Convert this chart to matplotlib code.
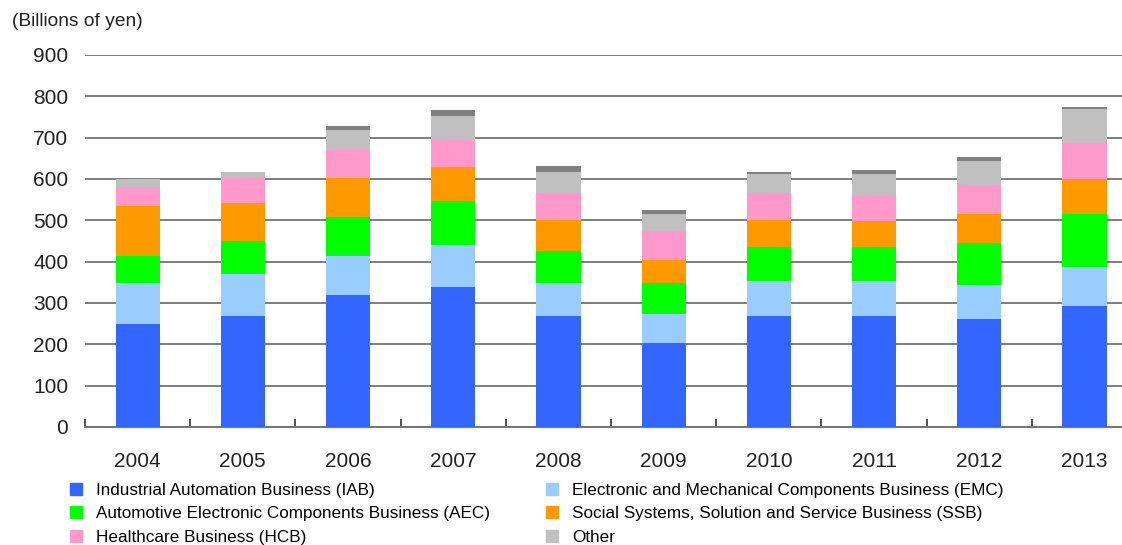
import matplotlib
matplotlib.use('Agg')
import matplotlib.pyplot as plt
from matplotlib.patches import Patch
import numpy as np

years = ['2004', '2005', '2006', '2007', '2008', '2009', '2010', '2011', '2012', '2013']
iab = [248, 269, 319, 339, 269, 203, 269, 269, 261, 293]
emc = [100, 101, 94, 101, 80, 70, 84, 84, 82, 94]
aec = [66, 80, 94, 107, 77, 75, 83, 83, 102, 129]
ssb = [121, 92, 95, 81, 75, 57, 65, 63, 71, 83]
hcb = [45, 61, 69, 67, 64, 68, 64, 61, 70, 88]
other = [19, 14, 47, 58, 52, 43, 48, 53, 58, 83]
elim = [0, 0, 10, 15, 14, 9, 4, 9, 10, 5]

labels = ['Industrial Automation Business (IAB)',
          'Electronic and Mechanical Components Business (EMC)',
          'Automotive Electronic Components Business (AEC)',
          'Social Systems, Solution and Service Business (SSB)',
          'Healthcare Business (HCB)',
          'Other']
colors = ['#3366FF', '#99CCFF', '#00FF00', '#FF9900', '#FF99CC', '#C0C0C0', '#808080']

plt.rcParams['font.family'] = ['Liberation Sans', 'DejaVu Sans']

fig = plt.figure(figsize=(11.22, 5.45), dpi=100)
ax = fig.add_axes([85/1122, (545-427)/545, 1 - 85/1122, 372/545])

x = np.arange(len(years))
series = [iab, emc, aec, ssb, hcb, other, elim]
bottom = np.zeros(len(years))
for vals, c in zip(series, colors):
    ax.bar(x, vals, bottom=bottom, width=0.42, color=c, zorder=3)
    bottom += np.array(vals)

ax.set_yticks(range(0, 1000, 100))
ax.yaxis.grid(True, color='#5a5a5a', lw=1.1, zorder=1)
ax.tick_params(axis='y', length=0, pad=12, labelsize=15, labelcolor='#222222')
ax.set_xticks(x)
ax.set_xticklabels(years)
ax.set_xticks(np.arange(-0.5, 9.6, 1), minor=True)
ax.tick_params(axis='x', which='major', length=0, pad=18, labelsize=15, labelcolor='#222222')
ax.tick_params(axis='x', which='minor', direction='in', length=6, color='#333333', width=1.2)
ax.set_ylim(0, 900)
ax.set_xlim(-0.5, 9.357)
for s in ['left', 'right', 'top']:
    ax.spines[s].set_visible(False)
ax.spines['bottom'].set_color('#777777')
ax.spines['bottom'].set_linewidth(1.5)

fig.text(12/1122, 1 - 22/545, '(Billions of yen)', fontsize=13.8, va='center', ha='left', color='#222222')

handles = [Patch(color=c) for c in colors[:6]]
leg_kw = dict(frameon=False, loc='upper left', fontsize=12.3, handlelength=0.72, handleheight=0.72,
              handletextpad=0.8, labelspacing=0.48, borderpad=0, borderaxespad=0)
l1 = fig.legend([handles[0], handles[2], handles[4]], [labels[0], labels[2], labels[4]],
                bbox_to_anchor=(70/1122, 1 - 483/545), **leg_kw)
l2 = fig.legend([handles[1], handles[3], handles[5]], [labels[1], labels[3], labels[5]],
                bbox_to_anchor=(546/1122, 1 - 483/545), **leg_kw)

fig.savefig('out.png', dpi=100)
